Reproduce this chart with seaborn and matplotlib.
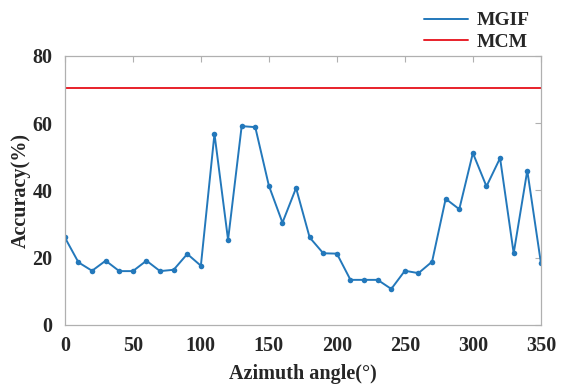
import numpy as np
import pandas as pd
import matplotlib
matplotlib.use("Agg")
import matplotlib.pyplot as plt
import seaborn as sns

angles = list(range(0, 360, 10))
mgif = [26.0, 18.6, 16.1, 19.1, 16.0, 16.0, 19.1, 16.0, 16.4, 21.1,
        17.6, 56.8, 25.3, 59.1, 58.8, 41.4, 30.4, 40.7, 26.0, 21.3,
        21.2, 13.4, 13.4, 13.4, 10.7, 16.1, 15.4, 18.8, 37.5, 34.4,
        51.1, 41.2, 49.6, 21.3, 45.9, 18.5]
mcm_value = 70.4
mcm = [mcm_value] * len(angles)
xticks = [0, 50, 100, 150, 200, 250, 300, 350]
yticks = [0, 20, 40, 60, 80]

sns.set_theme(style="white")
plt.rcParams['font.family'] = ['Liberation Serif', 'DejaVu Serif']
plt.rcParams['font.weight'] = 'bold'

df = pd.DataFrame({"angle": angles, "MGIF": mgif, "MCM": mcm})

fig = plt.figure(figsize=(5.64, 3.85), dpi=100)
ax = fig.add_axes([0.115, 0.156, 0.844, 0.699])

sns.lineplot(data=df, x="angle", y="MGIF", ax=ax, color="#2378bb", linewidth=1.4,
             marker="o", markersize=4, markeredgewidth=0, label="MGIF")
sns.lineplot(data=df, x="angle", y="MCM", ax=ax, color="#e8202a", linewidth=1.4,
             label="MCM")

ax.set_xlim(0, 350)
ax.set_ylim(0, 80)
ax.set_xticks(xticks)
ax.set_yticks(yticks)
ax.tick_params(axis='both', which='both', direction='in', length=4, width=0.8,
               color='#b0b0b0', top=True, right=True, labelsize=14.5)
ax.tick_params(axis='x', pad=8)
ax.tick_params(axis='y', pad=9)
for lab in ax.get_xticklabels() + ax.get_yticklabels():
    lab.set_fontweight('bold')
for sp in ax.spines.values():
    sp.set_color('#b0b0b0')
    sp.set_linewidth(0.9)

ax.set_xlabel("Azimuth angle(°)", fontsize=14.5, fontweight='bold', labelpad=6)
ax.set_ylabel("Accuracy(%)", fontsize=14.5, fontweight='bold', labelpad=1)

leg = ax.legend(loc='lower right', bbox_to_anchor=(1.0, 0.975), frameon=False,
                prop={'size': 14, 'weight': 'bold'}, handlelength=2.3,
                handletextpad=0.4, labelspacing=0.2, borderpad=0.1)
for ln in leg.get_lines():
    ln.set_marker('')

fig.savefig("out.png", dpi=100)
